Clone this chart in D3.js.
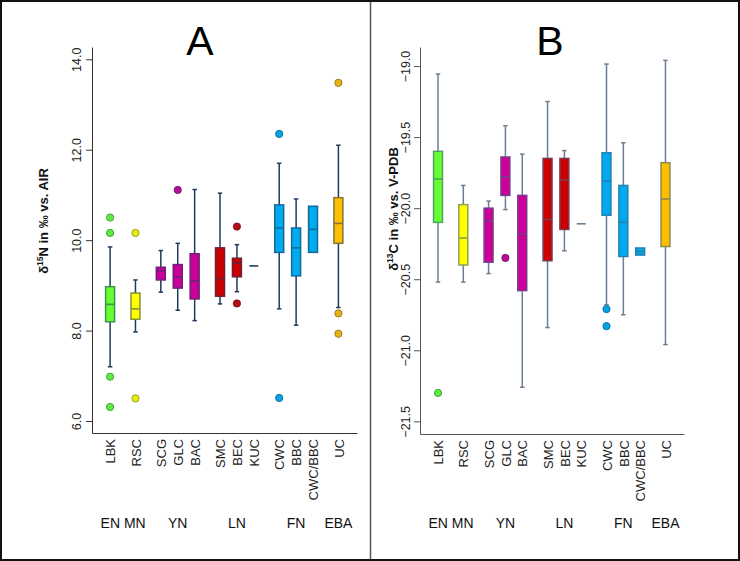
<!DOCTYPE html>
<html><head><meta charset="utf-8">
<script src="https://cdn.jsdelivr.net/npm/d3@7"></script>
<style>body{margin:0;background:#fff;font-family:"Liberation Sans",Arial,sans-serif;} svg text{font-family:"Liberation Sans",Arial,sans-serif;}</style>
</head><body><div id="chart"></div>
<script>
// ---------- data ----------
const categories = ["LBK","RSC","SCG","GLC","BAC","SMC","BEC","KUC","CWC","BBC","CWC/BBC","UC"];
const positions  = [1, 2.5, 4, 5, 6, 7.5, 8.5, 9.5, 11, 12, 13, 14.5];
const fills      = ["#66ff33","#ffff00","#cc0099","#cc0099","#cc0099","#cc0000","#cc0000","#cc0000","#00aaee","#00aaee","#00aaee","#ffbf00"];
const groupLabels    = ["EN MN","YN","LN","FN","EBA"];
const groupPositions = [1.77, 5, 8.5, 12, 14.5];

// δ15N (panel A)
const nLow  = [7.20, 7.97, 8.85, 8.45, 8.22, 8.59, 8.86, 9.43, 8.48, 8.12, 9.73, 8.51];
const nQ1   = [8.195,8.25, 9.12, 8.94, 8.70, 8.76, 9.19, 9.43, 9.73, 9.21, 9.73, 9.93];
const nMed  = [8.58, 8.48, 9.32, 9.19, 9.10, 9.15, 9.49, 9.43, 10.27,9.83, 10.24,10.37];
const nQ3   = [8.97, 8.83, 9.40, 9.46, 9.70, 9.83, 9.60, 9.43, 10.78,10.27,10.75,10.94];
const nHigh = [9.85, 9.12, 9.77, 9.93, 11.12,11.04,9.90, 9.43, 11.70,10.91,10.75,12.10];
const nOut  = [[10.50,10.16,6.98,6.31],[10.16,6.50],[],[11.11],[],[],[10.30,8.60],[],[12.35,6.51],[],[],[13.48,8.38,7.93]];
const nTicks = [6, 8, 10, 12, 14];

// δ13C (panel B)
const cLow  = [-20.52,-20.52,-20.46,-20.01,-21.26,-20.84,-20.30,-20.11,-20.68,-20.75,-20.33,-20.96];
const cQ1   = [-20.10,-20.40,-20.38,-19.91,-20.58,-20.37,-20.15,-20.11,-20.05,-20.34,-20.33,-20.27];
const cMed  = [-19.795,-20.21,-20.09,-19.78,-20.18,-20.08,-19.80,-20.11,-19.81,-20.10,-20.305,-19.935];
const cQ3   = [-19.60,-19.975,-20.00,-19.64,-19.91,-19.65,-19.65,-20.11,-19.61,-19.84,-20.28,-19.68];
const cHigh = [-19.056,-19.84,-19.95,-19.42,-19.62,-19.25,-19.595,-20.11,-18.986,-19.54,-20.28,-18.96];
const cOut  = [[-21.30],[],[],[-20.35],[],[],[],[],[-20.71,-20.83],[],[],[]];
const cTicks = [-21.5, -21.0, -20.5, -20.0, -19.5, -19.0];

// ---------- drawing ----------
const W = 740, H = 561;
const svg = d3.select("#chart").append("svg").attr("width", W).attr("height", H);
svg.append("rect").attr("x",1).attr("y",1).attr("width",W-2).attr("height",H-2)
   .attr("fill","#fff").attr("stroke","#111").attr("stroke-width",2);
svg.append("line").attr("x1",370.5).attr("x2",370.5).attr("y1",2).attr("y2",H-2)
   .attr("stroke","#555").attr("stroke-width",1.5);

const fmt = v => d3.format(".1f")(v).replace("-", "\u2212");

function panel(opt) {
  const {left, right, top, bottom, yDomain, ticks, low, q1, med, q3, high, outs,
         whisk, axisCol, mixCol, mixAmt, title, titleX, yTitle, yTitleX, yTitleY, tickBase} = opt;
  const g = svg.append("g");
  const x = d3.scaleLinear().domain([-0.07, 15.6]).range([left, right]);
  const y = d3.scaleLinear().domain(yDomain).range([bottom, top]);

  // y axis
  const ya = g.append("g").attr("transform", `translate(${left},0)`)
    .call(d3.axisLeft(y).tickValues(ticks).tickSize(6).tickSizeOuter(0).tickFormat(fmt));
  ya.attr("font-family", null);
  ya.select(".domain").attr("stroke", axisCol);
  ya.selectAll(".tick line").attr("stroke", axisCol);
  ya.selectAll(".tick text")
    .attr("x", null).attr("dy", null)
    .attr("transform", `translate(${tickBase - left},0) rotate(-90)`)
    .attr("text-anchor","middle").attr("font-size", 12.5).attr("fill","#222");

  // x axis (baseline only)
  const xa = g.append("g").attr("transform", `translate(0,${bottom})`)
    .call(d3.axisBottom(x).tickValues(positions).tickSize(0).tickSizeOuter(0)
      .tickFormat((d,i) => categories[i]));
  xa.attr("font-family", null);
  xa.select(".domain").attr("stroke", axisCol);
  xa.selectAll(".tick text")
    .attr("y", null).attr("dy", null)
    .attr("transform", "translate(4.7,6) rotate(-90)")
    .attr("text-anchor","end").attr("font-size", 13).attr("fill","#222");

  // group labels
  g.selectAll("text.grp").data(groupLabels).join("text").attr("class","grp")
    .attr("x", (d,i) => x(groupPositions[i])).attr("y", 528)
    .attr("text-anchor","middle").attr("font-size",14).attr("fill","#111")
    .text(d => d);

  // title
  g.append("text").attr("x", titleX).attr("y", 55).attr("text-anchor","middle")
    .attr("font-size", 41).attr("fill","#000").text(title);

  // y title
  const yt = g.append("text").attr("transform", `translate(${yTitleX},${yTitleY}) rotate(-90)`)
    .attr("text-anchor","middle").attr("font-size",13).attr("font-weight","bold").attr("fill","#111");
  yt.append("tspan").text("\u03B4");
  yt.append("tspan").attr("font-size",8.5).attr("dy",-5).text(yTitle[0]);
  yt.append("tspan").attr("dy",5).text(yTitle[1]);

  const bw = x(0.53) - x(0);
  const sw = bw / 2;
  categories.forEach((c, i) => {
    const cx = x(positions[i]);
    const fill = fills[i];
    const stroke = d3.interpolateRgb(fill, mixCol)(mixAmt);
    const bg = g.append("g");
    // whiskers
    if (high[i] > q3[i]) {
      bg.append("line").attr("x1",cx).attr("x2",cx).attr("y1",y(q3[i])).attr("y2",y(high[i]))
        .attr("stroke",whisk).attr("stroke-width",1.5);
      bg.append("line").attr("x1",cx-sw/2).attr("x2",cx+sw/2).attr("y1",y(high[i])).attr("y2",y(high[i]))
        .attr("stroke",whisk).attr("stroke-width",1.5);
    }
    if (low[i] < q1[i]) {
      bg.append("line").attr("x1",cx).attr("x2",cx).attr("y1",y(q1[i])).attr("y2",y(low[i]))
        .attr("stroke",whisk).attr("stroke-width",1.5);
      bg.append("line").attr("x1",cx-sw/2).attr("x2",cx+sw/2).attr("y1",y(low[i])).attr("y2",y(low[i]))
        .attr("stroke",whisk).attr("stroke-width",1.5);
    }
    // box
    if (q3[i] > q1[i]) {
      bg.append("rect").attr("x",cx-bw/2).attr("width",bw)
        .attr("y",y(q3[i])).attr("height",y(q1[i]) - y(q3[i]))
        .attr("fill",fill).attr("stroke",stroke).attr("stroke-width",1.5);
    }
    // median
    bg.append("line").attr("x1",cx-bw/2).attr("x2",cx+bw/2).attr("y1",y(med[i])).attr("y2",y(med[i]))
      .attr("stroke", q3[i] > q1[i] ? stroke : whisk).attr("stroke-width",1.6);
    // outliers
    outs[i].forEach(v => {
      bg.append("circle").attr("cx",cx).attr("cy",y(v)).attr("r",3.6)
        .attr("fill", d3.interpolateRgb(fill, "#2060a0")(0.12))
        .attr("stroke", d3.interpolateRgb(fill, "#203040")(0.45)).attr("stroke-width",1);
    });
  });
}

panel({left:92, right:357, top:47, bottom:433, yDomain:[5.735, 14.272], ticks:nTicks,
  low:nLow, q1:nQ1, med:nMed, q3:nQ3, high:nHigh, outs:nOut,
  whisk:"#1f3a5c", axisCol:"#333", mixCol:"#1f3a5c", mixAmt:0.55,
  title:"A", titleX:200, yTitle:["15","N in \u2030 vs. AIR"], yTitleX:48, yTitleY:221, tickBase:80.5});

panel({left:420, right:684, top:47, bottom:434, yDomain:[-21.589, -18.866], ticks:cTicks,
  low:cLow, q1:cQ1, med:cMed, q3:cQ3, high:cHigh, outs:cOut,
  whisk:"#6b7f94", axisCol:"#555", mixCol:"#3f6585", mixAmt:0.6,
  title:"B", titleX:550, yTitle:["13","C in \u2030 vs. V-PDB"], yTitleX:398, yTitleY:209, tickBase:410});
</script>
</body></html>
